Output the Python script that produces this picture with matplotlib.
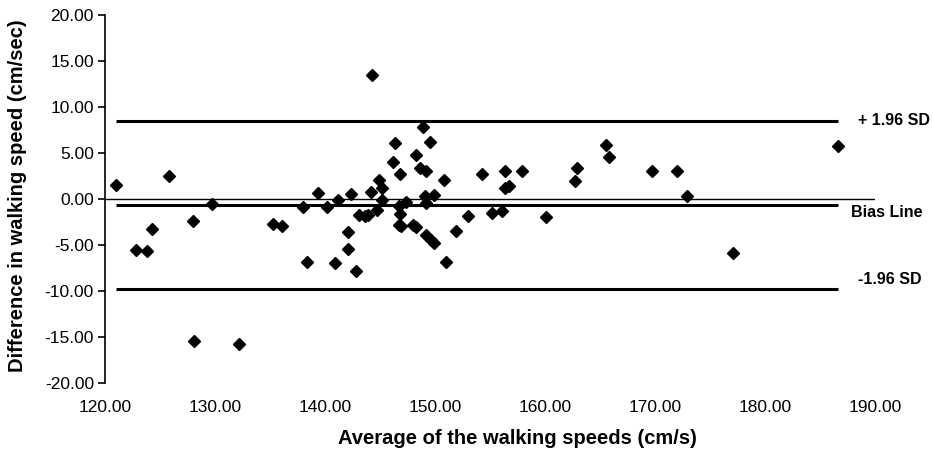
import matplotlib.pyplot as plt
import numpy as np

# Bland-Altman style scatter: average speed vs. difference (cm/s)
avg_speed = [121.0, 122.8, 123.8, 124.3, 125.8, 128.0, 128.1, 129.7, 132.2,
             135.3, 136.1, 138.0, 138.4, 139.4, 140.2, 140.9, 141.2, 142.1,
             142.1, 142.4, 142.8, 143.1, 143.6, 143.9, 144.2, 144.3, 144.7,
             144.9, 145.2, 145.2, 146.2, 146.4, 146.7, 146.8, 146.8, 146.7,
             146.9, 147.4, 148.0, 148.3, 148.3, 148.6, 148.9, 149.2, 149.5,
             149.1, 149.2, 149.9, 149.2, 149.6, 149.9, 150.8, 151.0, 151.9,
             153.0, 154.3, 155.2, 156.1, 156.4, 156.4, 156.7, 157.9, 160.1,
             162.7, 162.9, 165.5, 165.8, 169.7, 172.0, 172.9, 177.1, 186.6]
diff_speed = [1.5, -5.5, -5.6, -3.3, 2.5, -2.4, -15.4, -0.5, -15.8,
              -2.7, -2.9, -0.9, -6.9, 0.7, -0.9, -7.0, -0.1, -3.6,
              -5.4, 0.5, -7.8, -1.7, -1.8, -1.7, 0.8, 13.5, -1.2,
              2.1, 1.2, -0.1, 4.0, 6.1, -0.8, 2.7, -1.6, -2.8,
              -2.9, -0.3, -2.8, -3.0, 4.8, 3.4, 7.8, 3.0, 6.2,
              0.3, -0.4, 0.4, -3.9, -4.5, -4.8, 2.1, -6.9, -3.5,
              -1.8, 2.7, -1.5, -1.3, 3.0, 1.2, 1.4, 3.0, -2.0,
              2.0, 3.4, 5.9, 4.6, 3.0, 3.0, 0.3, -5.9, 5.8]

bias = -0.69
upper_loa = 8.48
lower_loa = -9.78
line_labels = ["+ 1.96 SD", "Bias Line", "-1.96 SD"]

plt.rcParams["font.family"] = ["Liberation Sans", "DejaVu Sans"]

fig = plt.figure(figsize=(9.33, 4.5), dpi=100)
ax = fig.add_axes([105 / 933, 1 - 383 / 450, 770 / 933, 368 / 450])

x_lo, x_hi = min(avg_speed), max(avg_speed)
for v in (upper_loa, bias, lower_loa):
    ax.plot([x_lo, x_hi], [v, v], color="black", lw=2.2, solid_capstyle="butt")
ax.axhline(0, color="black", lw=1)
ax.plot(avg_speed, diff_speed, linestyle="none", marker="D", ms=6.3,
        color="black")

ax.text(x_hi + 1.9, upper_loa, line_labels[0], fontsize=11.5, weight="bold",
        va="center", ha="left")
ax.text(x_hi + 1.2, bias - 0.75, line_labels[1], fontsize=11.5, weight="bold",
        va="center", ha="left")
ax.text(x_hi + 1.9, lower_loa + 1.0, line_labels[2], fontsize=11.5,
        weight="bold", va="center", ha="left")

ax.set_xlim(120, 190)
ax.set_ylim(-20, 20)
ax.set_xticks(np.arange(120, 191, 10))
ax.set_yticks(np.arange(-20, 21, 5))
ax.xaxis.set_major_formatter(plt.FormatStrFormatter("%.2f"))
ax.yaxis.set_major_formatter(plt.FormatStrFormatter("%.2f"))
ax.tick_params(axis="x", length=0, pad=12, labelsize=12.5)
ax.tick_params(axis="y", length=5, width=1.2, labelsize=12.5, pad=3)

for side in ("top", "right", "bottom"):
    ax.spines[side].set_visible(False)
ax.spines["left"].set_linewidth(1.2)

ax.set_xlabel("Average of the walking speeds (cm/s)", fontsize=14.5,
              weight="bold", va="center")
ax.set_ylabel("Difference in walking speed (cm/sec)", fontsize=14.5,
              weight="bold", va="center")
ax.xaxis.set_label_coords((517 - 105) / 770, (383 - 438) / 368)
ax.yaxis.set_label_coords((18 - 105) / 770, (383 - 196) / 368)

fig.savefig("out.png", dpi=100)
